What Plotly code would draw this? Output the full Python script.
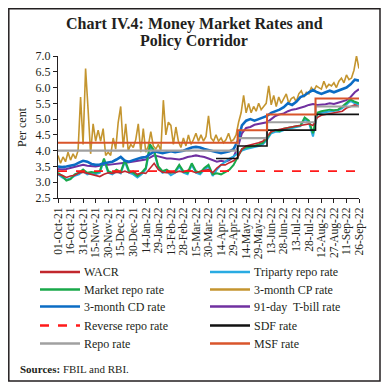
import plotly.graph_objects as go
import pandas as pd

# ---------------- data ----------------
dates5 = pd.date_range("2021-10-01", "2022-09-26", freq="5D")
dates3 = pd.date_range("2021-10-01", "2022-09-26", freq="3D")

wacr = [3.25, 3.22, 3.15, 3.20, 3.22, 3.30, 3.32, 3.28, 3.25, 3.20,
        3.18, 3.25, 3.30, 3.28, 3.32, 3.30, 3.35, 3.30, 3.35, 3.25,
        3.30, 3.28, 3.45, 3.60, 3.40, 3.32, 3.30, 3.32, 3.30, 3.35,
        3.32, 3.38, 3.35, 3.30, 3.35, 3.38, 3.40, 3.30, 3.45, 3.55,
        3.55, 3.62, 3.68, 3.80, 4.05, 4.15, 4.18, 4.22, 4.25, 4.30,
        4.45, 4.60, 4.65, 4.68, 4.70, 4.72, 4.75, 4.78, 4.80, 4.82,
        4.85, 4.80, 5.05, 5.12, 5.15, 5.18, 5.20, 5.22, 5.25, 5.35,
        5.40, 5.45, 5.40]

triparty = [3.25, 3.15, 3.08, 3.12, 3.20, 3.25, 3.35, 3.25, 3.28, 3.25,
            3.30, 3.70, 3.30, 3.25, 3.35, 3.28, 3.65, 3.30, 3.25, 3.15,
            3.25, 3.40, 4.10, 3.95, 3.45, 3.30, 3.35, 3.22, 3.30, 3.50,
            3.30, 3.25, 3.55, 3.30, 3.25, 3.40, 3.50, 3.20, 3.40, 3.55,
            3.65, 3.75, 3.82, 3.90, 4.00, 4.05, 4.08, 4.12, 4.15, 4.20,
            4.35, 4.55, 4.60, 4.60, 4.65, 4.70, 4.72, 4.75, 4.78, 5.00,
            4.90, 4.45, 5.15, 5.20, 5.22, 5.25, 5.25, 5.28, 5.35, 5.45,
            5.58, 5.50, 5.45]

market_repo = [3.30, 3.20, 3.05, 3.10, 3.25, 3.30, 3.40, 3.30, 3.32, 3.30,
               3.35, 3.75, 3.35, 3.30, 3.40, 3.32, 3.70, 3.35, 3.30, 3.20,
               3.30, 3.45, 4.20, 4.00, 3.50, 3.35, 3.40, 3.30, 3.35, 3.55,
               3.35, 3.30, 3.60, 3.35, 3.30, 3.45, 3.55, 3.25, 3.28, 3.25,
               3.32, 3.40, 3.55, 3.80, 4.05, 4.10, 4.12, 4.15, 4.20, 4.25,
               4.40, 4.60, 4.65, 4.62, 4.70, 4.72, 4.75, 4.78, 4.80, 5.05,
               4.95, 4.55, 5.20, 5.25, 5.28, 5.30, 5.28, 5.30, 5.40, 5.50,
               5.62, 5.55, 5.50]

cd_3m = [3.50, 3.48, 3.50, 3.52, 3.55, 3.62, 3.68, 3.65, 3.58, 3.55,
         3.56, 3.60, 3.62, 3.65, 3.72, 3.80, 3.68, 3.65, 3.70, 3.75,
         3.78, 3.80, 3.90, 3.98, 3.95, 3.92, 3.95, 3.98, 3.95, 3.97,
         4.00, 4.05, 4.10, 4.12, 4.10, 4.05, 4.02, 3.98, 3.95, 3.92,
         3.95, 3.98, 4.05, 4.30, 4.80, 4.95, 5.00, 4.95, 5.00, 5.05,
         5.10, 5.20, 5.25, 5.30, 5.38, 5.50, 5.45, 5.55, 5.70, 5.75,
         5.85, 5.92, 5.85, 5.80, 5.85, 5.90, 5.85, 5.90, 5.95, 6.00,
         6.10, 6.25, 6.22]

tbill_91 = [3.42, 3.40, 3.42, 3.45, 3.48, 3.52, 3.55, 3.52, 3.50, 3.50,
            3.52, 3.55, 3.55, 3.57, 3.60, 3.60, 3.62, 3.63, 3.65, 3.67,
            3.70, 3.72, 3.78, 3.85, 3.82, 3.78, 3.75, 3.75, 3.73, 3.72,
            3.75, 3.80, 3.82, 3.85, 3.82, 3.80, 3.75, 3.70, 3.65, 3.68,
            3.65, 3.70, 3.80, 4.10, 4.55, 4.72, 4.75, 4.82, 4.85, 4.88,
            4.90, 5.00, 5.10, 5.15, 5.18, 5.25, 5.30, 5.32, 5.35, 5.40,
            5.45, 5.48, 5.45, 5.45, 5.47, 5.50, 5.48, 5.52, 5.55, 5.60,
            5.70, 5.85, 5.95]

cp_3m = [3.85, 3.60, 3.80, 3.65, 3.95, 3.70, 3.90, 3.75, 4.00, 5.70,
         4.20, 6.60, 5.30, 3.90, 4.85, 4.30, 4.65, 4.30, 4.70, 3.85,
         3.95, 3.85, 4.40, 4.05, 4.90, 5.40, 4.10, 4.85, 4.00, 4.20,
         4.10, 4.35, 4.85, 3.95, 4.70, 3.95, 4.15, 4.60, 4.15, 4.05,
         4.20, 4.00, 5.60, 4.50, 4.90, 4.80, 4.20, 4.75, 4.30, 4.10,
         4.40, 4.15, 4.50, 4.20, 4.35, 4.55, 4.30, 4.50, 4.30, 4.45,
         5.10, 4.40, 4.30, 4.50, 4.30, 4.40, 4.25, 4.35, 4.55, 4.30,
         4.35, 4.50, 4.90, 5.20, 5.75, 5.20, 5.50, 5.20, 5.40, 5.25,
         5.50, 5.30, 5.40, 5.50, 6.05, 5.45, 5.75, 5.40, 5.70, 5.50,
         5.65, 5.80, 5.50, 5.65, 5.70, 5.55, 5.80, 5.90, 5.70, 5.85,
         5.80, 6.00, 5.90, 6.05, 6.00, 5.95, 6.20, 6.00, 6.10, 6.05,
         6.15, 6.00, 6.20, 6.30, 6.15, 6.40, 6.25, 6.30, 6.55, 7.00,
         6.60]

# policy corridor (change dates and levels)
repo_dates = ["2021-10-01", "2022-05-04", "2022-06-08", "2022-08-05", "2022-09-26"]
repo_rate = [4.00, 4.40, 4.90, 5.40, 5.40]
msf_rate = [4.25, 4.65, 5.15, 5.65, 5.65]
sdf_dates = ["2022-04-08", "2022-05-04", "2022-06-08", "2022-08-05", "2022-09-26"]
sdf_rate = [3.75, 4.15, 4.65, 5.15, 5.15]
rrr_dates = ["2021-10-01", "2022-09-26"]
reverse_repo = [3.35, 3.35]

FONT = "Liberation Serif"
TXT = "#231f20"

series = [
    # name, x, y, color, width, dash
    ("3-month CP rate", dates3, cp_3m, "#C4952F", 1.6, "solid"),
    ("91-day  T-bill rate", dates5, tbill_91, "#7030A0", 2.0, "solid"),
    ("Triparty repo rate", dates5, triparty, "#29ABE2", 2.0, "solid"),
    ("Market repo rate", dates5, market_repo, "#19A84A", 2.0, "solid"),
    ("WACR", dates5, wacr, "#C1272D", 1.6, "solid"),
    ("3-month CD rate", dates5, cd_3m, "#0B6CC4", 2.6, "solid"),
    ("Reverse repo rate", rrr_dates, reverse_repo, "#FF1A1A", 1.8, "dash"),
    ("Repo rate", repo_dates, repo_rate, "#A0A0A0", 2.2, "solid"),
    ("SDF rate", sdf_dates, sdf_rate, "#111111", 1.6, "solid"),
    ("MSF rate", repo_dates, msf_rate, "#D9552B", 2.0, "solid"),
]

fig = go.Figure()
style = {}
for name, x, y, col, w, dash in series:
    shape = "hv" if name in ("Repo rate", "SDF rate", "MSF rate", "Reverse repo rate") else "linear"
    fig.add_trace(go.Scatter(x=list(x), y=y, mode="lines", name=name,
                             line=dict(color=col, width=w, dash=dash, shape=shape),
                             showlegend=False, hoverinfo="skip"))
    style[name] = (col, w, dash)

# The page body adds an 8px offset; all layout numbers below are window pixels.
OFF = 8
W = 389 - OFF
L, R, T, B = 58, 359, 56, 198          # plot area in window pixels
def px(x):
    return (x - L) / (R - L)
def py(y):
    return (B - y) / (B - T)

shapes = []
annotations = []

# frame
shapes.append(dict(type="rect", xref="paper", yref="paper",
                   x0=px(8.8), x1=px(380), y0=py(381), y1=py(8.8),
                   line=dict(color="#231f20", width=1.5)))

# title
annotations.append(dict(text="<b>Chart IV.4: Money Market Rates and</b>", x=px(194), y=py(24),
                        xref="paper", yref="paper", showarrow=False, xanchor="center", yanchor="middle",
                        font=dict(family=FONT, size=16, color=TXT)))
annotations.append(dict(text="<b>Policy Corridor</b>", x=px(194), y=py(41),
                        xref="paper", yref="paper", showarrow=False, xanchor="center", yanchor="middle",
                        font=dict(family=FONT, size=16, color=TXT)))

# y title
annotations.append(dict(text="Per cent", x=px(22), y=py(127), xref="paper", yref="paper",
                        showarrow=False, textangle=-90, xanchor="center", yanchor="middle",
                        font=dict(family=FONT, size=12, color=TXT)))

# manual legend
legend_rows = [
    ("WACR", "Triparty repo rate"),
    ("Market repo rate", "3-month CP rate"),
    ("3-month CD rate", "91-day  T-bill rate"),
    ("Reverse repo rate", "SDF rate"),
    ("Repo rate", "MSF rate"),
]
row_y = [272, 289.5, 306.5, 325.5, 343.5]
cols = [(40, 80, 82), (210, 250, 252)]
for (a, b), yy in zip(legend_rows, row_y):
    for name, (x0, x1, xt) in zip((a, b), cols):
        col, w, dash = style[name]
        shapes.append(dict(type="line", xref="paper", yref="paper",
                           x0=px(x0), x1=px(x1), y0=py(yy), y1=py(yy),
                           line=dict(color=col, width=max(w, 2.4), dash=dash)))
        annotations.append(dict(text=name.replace("  ", "&nbsp; "), x=px(xt), y=py(yy),
                                xref="paper", yref="paper", showarrow=False,
                                xanchor="left", yanchor="middle",
                                font=dict(family=FONT, size=12, color=TXT)))

annotations.append(dict(text="<b>Sources:</b> FBIL and RBI.", x=px(18), y=py(369),
                        xref="paper", yref="paper", showarrow=False,
                        xanchor="left", yanchor="middle",
                        font=dict(family=FONT, size=11, color=TXT)))

fig.update_layout(
    width=W, height=W,
    margin=dict(l=L - OFF, r=389 - R, t=T - OFF, b=389 - B),
    paper_bgcolor="white", plot_bgcolor="white",
    shapes=shapes, annotations=annotations,
    font=dict(family=FONT, color=TXT),
)
fig.update_xaxes(
    type="date", range=["2021-10-01", "2022-09-26"],
    tick0="2021-10-01", dtick=15 * 86400000, tickformat="%d-%b-%y",
    tickangle=-90, ticks="outside", ticklen=4, tickcolor="#231f20",
    showline=True, linecolor="#231f20", linewidth=1, showgrid=False, zeroline=False,
    tickfont=dict(family=FONT, size=11.5, color=TXT),
)
fig.update_yaxes(
    range=[2.5, 7.0], dtick=0.5, tick0=2.5, tickformat=".1f",
    ticks="outside", ticklen=4, tickcolor="#231f20",
    showline=True, linecolor="#231f20", linewidth=1, showgrid=False, zeroline=False,
    tickfont=dict(family=FONT, size=12, color=TXT),
)

fig.write_html("out.html")
